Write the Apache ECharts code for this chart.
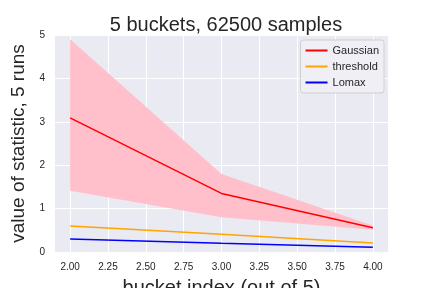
<!DOCTYPE html>
<html><head><meta charset="utf-8">
<script src="https://cdn.jsdelivr.net/npm/echarts@6/dist/echarts.min.js"></script>
<style>html,body{margin:0;padding:0;background:#fff}#c{width:432px;height:288px}</style>
</head><body><div id="c"></div>
<script>
var xs = [2, 3, 4];
var gaussian = [3.09, 1.35, 0.56];
var gaussianLow = [1.41, 0.80, 0.51];
var gaussianHigh = [4.90, 1.80, 0.61];
var threshold = [0.60, 0.41, 0.21];
var lomax = [0.30, 0.20, 0.11];
var xTicks = [2.00, 2.25, 2.50, 2.75, 3.00, 3.25, 3.50, 3.75, 4.00];

function pts(ys){ return xs.map(function(x,i){return [x, ys[i]];}); }
var bandData = xs.map(function(x,i){return [x, gaussianLow[i], gaussianHigh[i]];});

var chart = echarts.init(document.getElementById('c'), null, {renderer:'canvas'});
var F = 'Liberation Sans, Arial, sans-serif';
chart.setOption({
  animation:false,
  backgroundColor:'#ffffff',
  title:{text:'5 buckets, 62500 samples', left:221, top:10, textAlign:'center',
    textStyle:{fontFamily:F, fontSize:20, fontWeight:'normal', color:'#262626'}},
  grid:{left:55, right:44, top:35, bottom:36, show:true, backgroundColor:'#EAEAF2', borderWidth:0,
    outerBoundsMode:'none', containLabel:false},
  legend:{right:48, top:40, orient:'vertical', itemWidth:22, itemHeight:2, itemGap:5,
    padding:[5,5,5,5],
    backgroundColor:'rgba(240,240,245,0.9)', borderColor:'#d0d0d0', borderWidth:1, borderRadius:3,
    icon:'rect',
    textStyle:{fontFamily:F, fontSize:11, color:'#262626'},
    data:['Gaussian','threshold','Lomax']},
  xAxis:{type:'value', min:1.9, max:4.1,
    name:'bucket index (out of 5)', nameLocation:'middle', nameGap:26,
    nameTextStyle:{fontFamily:F, fontSize:20, color:'#262626'},
    axisLine:{show:false}, axisTick:{show:false, customValues:xTicks},
    axisLabel:{customValues:xTicks, formatter:function(v){return v.toFixed(2);},
      fontFamily:F, fontSize:10, color:'#262626', margin:10},
    splitLine:{show:true, lineStyle:{color:'#ffffff', width:1}}},
  yAxis:{type:'value', min:0, max:5, interval:1,
    name:'value of statistic, 5 runs', nameLocation:'middle', nameGap:16,
    nameTextStyle:{fontFamily:F, fontSize:19, color:'#262626'},
    axisLine:{show:false}, axisTick:{show:false},
    axisLabel:{fontFamily:F, fontSize:10, color:'#262626', margin:10},
    splitLine:{show:true, lineStyle:{color:'#ffffff', width:1}}},
  series:[
    {name:'band', type:'custom', data:bandData, silent:true, z:1,
      renderItem:function(params, api){
        if (params.dataIndex !== 0) return null;
        var top = [], bot = [];
        for (var i = 0; i < bandData.length; i++) {
          top.push(api.coord([bandData[i][0], bandData[i][2]]));
          bot.unshift(api.coord([bandData[i][0], bandData[i][1]]));
        }
        return {type:'polygon', shape:{points:top.concat(bot)}, style:{fill:'#FFC0CB'}};
      }},
    {name:'Gaussian', type:'line', data:pts(gaussian), symbol:'none', color:'#FF0000', z:3,
      lineStyle:{color:'#FF0000', width:1.5}},
    {name:'threshold', type:'line', data:pts(threshold), symbol:'none', color:'#FFA500', z:3,
      lineStyle:{color:'#FFA500', width:1.5}},
    {name:'Lomax', type:'line', data:pts(lomax), symbol:'none', color:'#0000FF', z:3,
      lineStyle:{color:'#0000FF', width:1.5}}
  ]
});
</script></body></html>
